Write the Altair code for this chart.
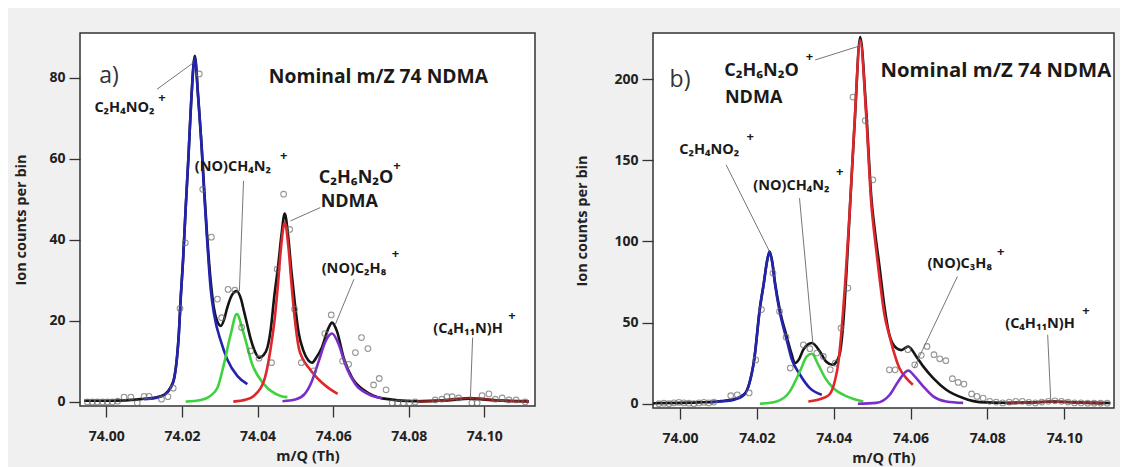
import altair as alt
import pandas as pd

# ---------------- Panel a data (m/Q in Th, ion counts per bin) ----------------
A_BLACK = [(73.9941, 0.3), (74.0000, 0.3), (74.0050, 0.4), (74.0100, 0.8), (74.0130, 1.1), (74.0155, 1.9),
           (74.0170, 3.6), (74.0180, 6.1), (74.0187, 11), (74.0192, 17), (74.0197, 26), (74.0203, 35),
           (74.0210, 48), (74.0217, 60), (74.0225, 75), (74.0234, 85.5), (74.0243, 75.5), (74.0252, 63.5),
           (74.0258, 54), (74.0266, 42), (74.0276, 30), (74.0285, 23), (74.0293, 20), (74.0303, 18.8),
           (74.0312, 20.5), (74.0320, 23.3), (74.0333, 26.5), (74.0345, 27.4), (74.0356, 25.5), (74.0364, 22.5),
           (74.0373, 19), (74.0382, 15.5), (74.0393, 12.5), (74.0404, 10.9), (74.0415, 11.5), (74.0426, 13.4),
           (74.0435, 18), (74.0444, 25.8), (74.0455, 34), (74.0463, 41), (74.0472, 46.5), (74.0481, 41),
           (74.0490, 32), (74.0498, 25), (74.0509, 17), (74.0522, 12.5), (74.0535, 10.2), (74.0544, 9.7),
           (74.0557, 11.2), (74.0570, 13.4), (74.0588, 18.3), (74.0597, 19.6), (74.0610, 17.5), (74.0628, 10.9),
           (74.0650, 6.0), (74.0685, 2.7), (74.0730, 0.9), (74.0817, 0.2), (74.0900, 0.4), (74.0962, 0.8),
           (74.1030, 0.4), (74.1118, 0.2)]
A_BLUE = [(74.0100, 0.7), (74.0130, 1.0), (74.0155, 1.8), (74.0170, 3.5), (74.0180, 6.0), (74.0187, 11),
          (74.0192, 17), (74.0197, 26), (74.0203, 35), (74.0210, 48), (74.0217, 60), (74.0225, 75),
          (74.0234, 85), (74.0243, 75), (74.0252, 63), (74.0258, 53), (74.0266, 41), (74.0276, 28),
          (74.0285, 21.7), (74.0303, 15), (74.0320, 10.5), (74.0347, 6.4), (74.0373, 4.4)]
A_GREEN = [(74.0210, 0.1), (74.0250, 0.5), (74.0275, 1.5), (74.0294, 3.5), (74.0311, 9.3), (74.0329, 16.7),
           (74.0345, 21.7), (74.0364, 16.7), (74.0386, 9.3), (74.0417, 4.4), (74.0461, 1.5), (74.0479, 1.2)]
A_RED = [(74.0336, 0.1), (74.0370, 0.6), (74.0390, 1.5), (74.0417, 5.2), (74.0435, 13.4), (74.0446, 21),
         (74.0454, 29), (74.0462, 38), (74.0472, 44.3), (74.0482, 38), (74.0490, 29), (74.0498, 21),
         (74.0509, 13.4), (74.0520, 10.6), (74.0535, 8.5), (74.0552, 6.5), (74.0570, 4.8), (74.0590, 3.3),
         (74.0612, 2.0)]
A_PURPLE = [(74.0466, 0.2), (74.0500, 0.6), (74.0525, 2.0), (74.0544, 5.2), (74.0562, 10.1), (74.0580, 15),
            (74.0597, 16.9), (74.0615, 14.2), (74.0632, 9.3), (74.0659, 4.4), (74.0694, 1.9), (74.0730, 0.9)]
A_DARKRED = [(74.0825, 0.1), (74.0880, 0.3), (74.0920, 0.7), (74.0962, 1.0), (74.1000, 0.7), (74.1050, 0.3),
             (74.1118, 0.1)]
A_POINTS = [(73.9950, 0.0), (73.9963, 0.0), (73.9976, 0.0), (73.9990, 0.0), (74.0003, 0.0), (74.0016, 0.0),
            (74.0030, 0.2), (74.0047, 1.2), (74.0065, 1.2), (74.0082, -0.2), (74.0100, 1.4), (74.0113, 1.4),
            (74.0146, 0.7), (74.0163, 1.3), (74.0177, 3.4), (74.0195, 23.1), (74.0209, 39.3), (74.0246, 81.0),
            (74.0255, 52.5), (74.0278, 40.7), (74.0294, 25.4), (74.0305, 20.8), (74.0322, 27.8), (74.0340, 27.6),
            (74.0358, 18.4), (74.0382, 12.6), (74.0404, 10.8), (74.0437, 9.7), (74.0452, 32.8), (74.0469, 51.3),
            (74.0485, 42.6), (74.0498, 22.9), (74.0516, 9.7), (74.0549, 7.7), (74.0578, 16.9), (74.0595, 21.5),
            (74.0625, 10.1), (74.0641, 9.3), (74.0659, 12.2), (74.0675, 15.9), (74.0692, 13.2), (74.0707, 4.2),
            (74.0722, 5.8), (74.0740, 3.0), (74.0756, -0.2), (74.0771, -0.2), (74.0786, -0.2), (74.0802, -0.2),
            (74.0817, 0.0), (74.0870, 0.5), (74.0888, 0.7), (74.0901, 1.3), (74.0915, 1.3), (74.0932, 1.0),
            (74.0967, -0.2), (74.0981, -0.2), (74.0994, 1.6), (74.1012, 2.0), (74.1029, 0.7), (74.1047, 1.0),
            (74.1065, 0.5), (74.1084, 0.5), (74.1108, 0.0)]
# labels: (text, m, v)
A_IONS = [("C₂H₄NO₂", 74.0048, 72.5), ("(NO)CH₄N₂", 74.0335, 58.0), ("(NO)C₂H₈", 74.0655, 32.8),
          ("(C₄H₁₁N)H", 74.0957, 18.1)]
A_BIG = [("C₂H₆N₂O", 74.0562, 55.3), ("NDMA", 74.0567, 49.4)]
A_PLUS = [(74.0147, 75.1), (74.0469, 60.7), (74.0769, 58.3), (74.0765, 36.5), (74.1073, 21.2)]
A_LEADERS = [(74.0134, 77.2, 74.0231, 83.8), (74.0363, 54.6, 74.0352, 27.4), (74.0566, 48.0, 74.0487, 44.7),
             (74.0655, 30.3, 74.0606, 19.2), (74.0969, 15.9, 74.0963, 0.7)]
A_TAG = [("a)", 74.0007, 80.5)]
A_HEAD = [("Nominal m/Z 74 NDMA", 74.0430, 80.3)]

# ---------------- Panel b data ----------------
B_BLACK = [(73.9930, 0.3), (74.0000, 0.5), (74.0050, 0.8), (74.0081, 1.0), (74.0106, 1.6), (74.0141, 2.8),
           (74.0167, 5.8), (74.0180, 12.3), (74.0193, 27.3), (74.0208, 59.2), (74.0218, 74.3), (74.0226, 87.3),
           (74.0233, 93.8), (74.0240, 87.5), (74.0247, 75), (74.0260, 57.5), (74.0277, 42), (74.0290, 31),
           (74.0299, 25), (74.0310, 27.5), (74.0321, 33.3), (74.0343, 37.4), (74.0364, 32.2), (74.0380, 26),
           (74.0397, 24), (74.0410, 27), (74.0417, 32.2), (74.0425, 50), (74.0433, 80), (74.0441, 115),
           (74.0455, 175), (74.0469, 226), (74.0484, 183), (74.0498, 127), (74.0508, 105), (74.0519, 85),
           (74.0532, 60), (74.0545, 42.5), (74.0563, 34.3), (74.0576, 33), (74.0594, 35.3), (74.0615, 29.1),
           (74.0633, 23), (74.0659, 15.8), (74.0693, 8.6), (74.0737, 3.5), (74.0780, 1.0), (74.0850, 0.6),
           (74.0920, 0.8), (74.0970, 1.4), (74.1030, 0.8), (74.1120, 0.4)]
B_BLUE = [(74.0081, 1.0), (74.0106, 1.4), (74.0141, 2.5), (74.0167, 5.5), (74.0180, 12), (74.0193, 27),
          (74.0208, 59), (74.0218, 74), (74.0226, 87), (74.0233, 93.5), (74.0240, 87), (74.0247, 74),
          (74.0260, 56), (74.0277, 40), (74.0290, 28), (74.0312, 18), (74.0338, 9.6), (74.0369, 5.5)]
B_GREEN = [(74.0208, 0.0), (74.0251, 1.4), (74.0286, 7.6), (74.0312, 19.9), (74.0330, 29.1), (74.0343, 30.8),
           (74.0360, 24), (74.0378, 15.8), (74.0399, 9.7), (74.0434, 4.5), (74.0477, 1.4)]
B_RED = [(74.0334, 1.4), (74.0373, 3.5), (74.0390, 6), (74.0403, 14), (74.0412, 25), (74.0420, 44),
         (74.0430, 75), (74.0440, 112), (74.0454, 172), (74.0469, 224), (74.0484, 180), (74.0498, 123),
         (74.0508, 100), (74.0519, 78), (74.0532, 55), (74.0545, 42), (74.0554, 34), (74.0571, 22),
         (74.0589, 15.8), (74.0606, 11.7)]
B_PURPLE = [(74.0463, 0.0), (74.0511, 0.5), (74.0546, 5.5), (74.0568, 13.7), (74.0594, 20.5), (74.0611, 16.8),
            (74.0633, 10.7), (74.0659, 4.5), (74.0693, 1.4), (74.0737, 0.5)]
B_DARKRED = [(74.0850, 0.2), (74.0920, 0.8), (74.0970, 1.4), (74.1030, 0.8), (74.1100, 0.2)]
B_POINTS = [(73.9945, 0.0), (73.9958, 0.3), (73.9971, 0.0), (73.9984, 0.5), (73.9997, 0.8), (74.0010, 0.5),
            (74.0023, 0.3), (74.0036, 0.0), (74.0049, 0.5), (74.0062, 0.8), (74.0075, 0.5), (74.0088, 1.0),
            (74.0132, 4.9), (74.0149, 5.5), (74.0180, 6.6), (74.0197, 27.0), (74.0212, 58.0), (74.0242, 80.5),
            (74.0259, 56.9), (74.0276, 41.0), (74.0287, 22.0), (74.0321, 36.3), (74.0338, 33.9), (74.0356, 31.2),
            (74.0373, 29.1), (74.0391, 21.0), (74.0404, 25.0), (74.0419, 46.6), (74.0437, 71.3), (74.0450, 189.0),
            (74.0482, 174.5), (74.0502, 138.0), (74.0545, 20.9), (74.0560, 20.9), (74.0593, 33.3), (74.0611, 24.0),
            (74.0628, 29.8), (74.0643, 35.3), (74.0661, 30.2), (74.0676, 27.7), (74.0692, 26.5), (74.0709, 15.4),
            (74.0724, 13.1), (74.0739, 12.1), (74.0759, 6.0), (74.0773, 4.5), (74.0789, 3.5), (74.0806, 1.5),
            (74.0823, 1.0), (74.0840, 0.5), (74.0857, 1.0), (74.0874, 1.5), (74.0891, 1.5), (74.0908, 0.8),
            (74.0925, 0.5), (74.0942, 1.0), (74.0959, 1.5), (74.0976, 1.8), (74.0993, 1.5), (74.1010, 1.0),
            (74.1027, 0.5), (74.1044, 0.5), (74.1061, 0.3), (74.1078, 0.3), (74.1095, 0.3), (74.1112, 0.3)]
B_IONS = [("C₂H₄NO₂", 74.0076, 156.5), ("(NO)CH₄N₂", 74.0290, 134.3), ("(NO)C₃H₈", 74.0728, 86.2),
          ("(C₄H₁₁N)H", 74.0937, 49.3)]
B_BIG = [("C₂H₆N₂O", 74.0115, 205.0), ("NDMA", 74.0117, 188.5)]
B_PLUS = [(74.0337, 214.0), (74.0183, 164.6), (74.0416, 143.1), (74.0835, 93.8), (74.1057, 56.9)]
B_LEADERS = [(74.0352, 211.9, 74.0470, 220.7), (74.0120, 147.2, 74.0233, 93.8), (74.0311, 126.7, 74.0346, 36.3),
             (74.0722, 78.4, 74.0609, 22.0), (74.0957, 42.5, 74.0965, 2.5)]
B_TAG = [("b)", 74.0000, 199.6)]
B_HEAD = [("Nominal m/Z 74 NDMA", 74.0522, 205.0)]

X_TICKS = [74.00, 74.02, 74.04, 74.06, 74.08, 74.10]
A_YTICKS = [0, 20, 40, 60, 80]
B_YTICKS = [0, 50, 100, 150, 200]

COLORS = {"black": "#141414", "darkred": "#8a1f1f", "blue": "#2323b0", "green": "#3ed23e",
          "red": "#e0262a", "purple": "#7a2ec8"}
FONT = "Open Sans"


def pts_df(pts):
    return pd.DataFrame({"m": [p[0] for p in pts], "v": [p[1] for p in pts]})


def txt_df(items):
    return pd.DataFrame({"t": [i[0] for i in items], "m": [i[1] for i in items], "v": [i[2] for i in items]})


def panel(curves, points, ions, big, pluses, leaders, tag, head, xdom, ydom, yticks, w, h,
          ytitle_pad, head_size, title=None):
    X = alt.X("m:Q", title="m/Q (Th)",
              scale=alt.Scale(domain=xdom, nice=False, zero=False),
              axis=alt.Axis(values=X_TICKS, format=".2f", titlePadding=6, labelPadding=12))
    Y = alt.Y("v:Q", title="Ion counts per bin",
              scale=alt.Scale(domain=ydom, nice=False, zero=False),
              axis=alt.Axis(values=yticks, titlePadding=ytitle_pad, labelPadding=4))
    layers = []
    for name in ["black", "darkred", "blue", "green", "red", "purple"]:
        layers.append(alt.Chart(pts_df(curves[name])).mark_line(
            color=COLORS[name], strokeWidth=2.6, interpolate="monotone", clip=True).encode(x=X, y=Y))
    ldf = pd.DataFrame({"m": [l[0] for l in leaders], "v": [l[1] for l in leaders],
                        "m2": [l[2] for l in leaders], "v2": [l[3] for l in leaders]})
    layers.append(alt.Chart(ldf).mark_rule(color="#666666", strokeWidth=0.9).encode(
        x=X, y=Y, x2="m2:Q", y2="v2:Q"))
    layers.append(alt.Chart(pts_df(points)).mark_point(
        shape="circle", filled=False, color="#6a6a6a", size=32, strokeWidth=1.1, clip=True).encode(x=X, y=Y))
    layers.append(alt.Chart(txt_df(ions)).mark_text(
        font=FONT, fontWeight="bold", fontSize=14.5, color="#1a1a1a", align="center",
        baseline="middle").encode(x=X, y=Y, text="t:N"))
    layers.append(alt.Chart(txt_df(big)).mark_text(
        font=FONT, fontWeight="bold", fontSize=18, color="#1a1a1a", align="left",
        baseline="middle").encode(x=X, y=Y, text="t:N"))
    layers.append(alt.Chart(txt_df([("+", p[0], p[1]) for p in pluses])).mark_text(
        font=FONT, fontWeight="bold", fontSize=13, color="#1a1a1a", align="center",
        baseline="middle").encode(x=X, y=Y, text="t:N"))
    layers.append(alt.Chart(txt_df(tag)).mark_text(
        font=FONT, fontWeight="normal", fontSize=23, color="#333333", align="center",
        baseline="middle").encode(x=X, y=Y, text="t:N"))
    layers.append(alt.Chart(txt_df(head)).mark_text(
        font=FONT, fontWeight="bold", fontSize=head_size, color="#1a1a1a", align="left",
        baseline="middle").encode(x=X, y=Y, text="t:N"))
    props = dict(width=w, height=h)
    if title is not None:
        props["title"] = title
    return alt.layer(*layers).properties(**props)


pa = panel({"black": A_BLACK, "darkred": A_DARKRED, "blue": A_BLUE, "green": A_GREEN, "red": A_RED,
            "purple": A_PURPLE}, A_POINTS, A_IONS, A_BIG, A_PLUS, A_LEADERS, A_TAG, A_HEAD,
           [73.99304, 74.1134], [-0.99, 91.1], A_YTICKS, 455, 373, 20, 19.3,
           title=alt.TitleParams(" ", fontSize=1, offset=3, color="#f0f0f0"))
pb = panel({"black": B_BLACK, "darkred": B_DARKRED, "blue": B_BLUE, "green": B_GREEN, "red": B_RED,
            "purple": B_PURPLE}, B_POINTS, B_IONS, B_BIG, B_PLUS, B_LEADERS, B_TAG, B_HEAD,
           [73.99296, 74.11297], [-2.65, 228.5], B_YTICKS, 461, 375, 24, 20.3)

chart = alt.hconcat(pa, pb, spacing=38).properties(
    padding={"left": 5, "top": 20, "right": 5, "bottom": 5}
).configure(background="#f0f0f0").configure_view(
    fill="white", stroke="#333333", strokeWidth=1.5
).configure_axis(
    grid=False, domain=False, tickColor="#333333", tickSize=11, tickWidth=1.3,
    labelFont=FONT, labelFontWeight="bold", labelFontSize=14, labelColor="#222222",
    titleFont=FONT, titleFontWeight="bold", titleFontSize=14.5, titleColor="#222222"
)

chart.save("out.html", embed_options={"renderer": "svg", "actions": False})
